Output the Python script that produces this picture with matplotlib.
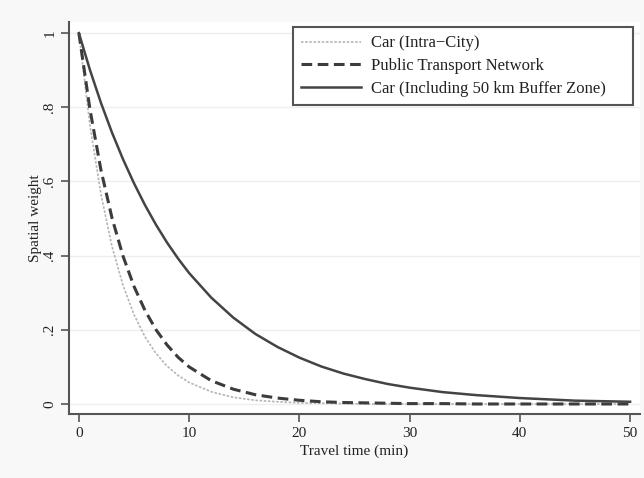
import numpy as np
import matplotlib
matplotlib.use("Agg")
import matplotlib.pyplot as plt

# values
time = [0, 1, 2, 3, 4, 5, 6, 7, 8, 9, 10, 12, 14, 16, 18, 20, 22, 24, 26, 28, 30, 33, 36, 40, 45, 50]
car_intra = [1.000, 0.752, 0.566, 0.425, 0.320, 0.241, 0.181, 0.136, 0.102, 0.077, 0.058,
             0.033, 0.018, 0.010, 0.006, 0.003, 0.002, 0.001, 0.000, 0.000, 0.000,
             0.000, 0.000, 0.000, 0.000, 0.000]
public_transport = [1.000, 0.795, 0.631, 0.502, 0.399, 0.317, 0.252, 0.200, 0.159, 0.126, 0.100,
                    0.063, 0.040, 0.025, 0.016, 0.010, 0.006, 0.004, 0.003, 0.002, 0.001,
                    0.001, 0.000, 0.000, 0.000, 0.000]
car_buffer = [1.000, 0.901, 0.812, 0.732, 0.660, 0.595, 0.536, 0.483, 0.435, 0.392, 0.353,
              0.287, 0.233, 0.189, 0.154, 0.125, 0.101, 0.082, 0.067, 0.054, 0.044,
              0.032, 0.024, 0.016, 0.009, 0.006]
labels = ["Car (Intra\u2212City)", "Public Transport Network", "Car (Including 50 km Buffer Zone)"]
xticks = [0, 10, 20, 30, 40, 50]
yticks = [0, 0.2, 0.4, 0.6, 0.8, 1]
yticklabels = ["0", ".2", ".4", ".6", ".8", "1"]

plt.rcParams['font.family'] = ['Liberation Serif', 'DejaVu Serif']

fig = plt.figure(figsize=(6.44, 4.78), dpi=100, facecolor='#f9f8f9')
ax = fig.add_axes([0.1071, 0.1339, 0.8867, 0.8201])
ax.set_facecolor('white')

l1, = ax.plot(time, car_intra, color='#b5b5b5', lw=1.2, ls=(0, (1.5, 1)))
l2, = ax.plot(time, public_transport, color='#3c3c3c', lw=2.2, ls=(0, (3.5, 1.8)))
l3, = ax.plot(time, car_buffer, color='#444444', lw=1.8, ls='-')

ax.set_xlim(-0.9, 50.9)
ax.set_ylim(-0.027, 1.03)
ax.set_xticks(xticks)
ax.set_yticks(yticks)
ax.set_yticklabels(yticklabels, rotation=90, va='center')
ax.grid(axis='y', color='#eeeeee', lw=1)
ax.set_axisbelow(True)

for s in ['top', 'right']:
    ax.spines[s].set_visible(False)
for s in ['left', 'bottom']:
    ax.spines[s].set_color('#555555')
    ax.spines[s].set_linewidth(1.5)
ax.tick_params(colors='#555555', width=1.2, length=6, labelsize=11, labelcolor='#222222')
ax.tick_params(axis='y', pad=3)

ax.set_xlabel("Travel time (min)", fontsize=11, color='#222222', labelpad=3)
ax.set_ylabel("Spatial weight", fontsize=11, color='#222222', labelpad=1)

# legend box spans x 293..633 px, top at 27 px in the reference
leg = fig.legend([l1, l2, l3], labels, loc='upper left',
                 bbox_to_anchor=(293 / 644, 1 - 105 / 478, 340 / 644, 78 / 478), mode='expand',
                 borderaxespad=0, fontsize=12, handlelength=3.6, handletextpad=0.6,
                 labelspacing=0.4, borderpad=0.5,
                 fancybox=False, framealpha=1, edgecolor='#555555')
leg.get_frame().set_linewidth(1.5)
for t in leg.get_texts():
    t.set_color('#222222')

fig.savefig("out.png", dpi=100, facecolor=fig.get_facecolor())
